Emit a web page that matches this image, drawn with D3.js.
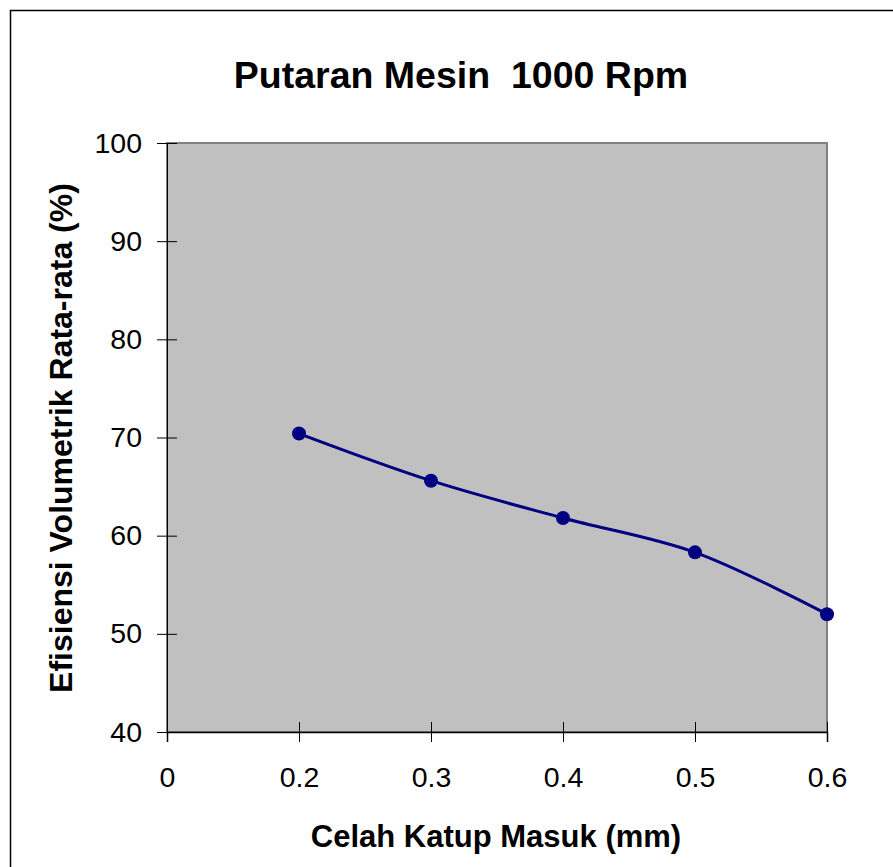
<!DOCTYPE html>
<html>
<head>
<meta charset="utf-8">
<script src="https://cdn.jsdelivr.net/npm/d3@7"></script>
<style>
  body { margin: 0; background: #fff; }
  svg { display: block; font-family: "Liberation Sans", Arial, sans-serif; }
</style>
</head>
<body>
<div id="chart"></div>
<script>
// categories on the x axis (Excel category axis, first one has no value)
const categories = ["0", "0.2", "0.3", "0.4", "0.5", "0.6"];
const efisiensi = [null, 70.4, 65.6, 61.8, 58.3, 52.0];
const yTicks = [40, 50, 60, 70, 80, 90, 100];

const width = 893, height = 867;
const plot = { left: 167, top: 143, right: 827, bottom: 732 };

const svg = d3.select("#chart").append("svg")
    .attr("width", width)
    .attr("height", height);

// outer chart border (right/bottom run off the picture)
svg.append("rect")
    .attr("x", 10.5).attr("y", 10.5)
    .attr("width", width + 20).attr("height", height + 20)
    .attr("fill", "#fff")
    .attr("stroke", "#000")
    .attr("stroke-width", 1.5);

const xscale = d3.scalePoint()
    .domain(categories)
    .range([plot.left, plot.right]);

const yscale = d3.scaleLinear()
    .domain([40, 100])
    .range([plot.bottom, plot.top]);

// plot area
svg.append("rect")
    .attr("x", plot.left).attr("y", plot.top)
    .attr("width", plot.right - plot.left)
    .attr("height", plot.bottom - plot.top)
    .attr("fill", "#c0c0c0")
    .attr("stroke", "#808080")
    .attr("stroke-width", 2);

// y axis
const yaxis = d3.axisLeft(yscale)
    .tickValues(yTicks)
    .tickSize(10)
    .tickPadding(15);

const gy = svg.append("g")
    .attr("transform", `translate(${plot.left},0)`)
    .call(yaxis);
gy.select(".domain").attr("stroke", "#000").attr("stroke-width", 1);
gy.selectAll(".tick line").attr("x2", -10).attr("x1", 10).attr("stroke", "#000");
gy.selectAll(".tick text")
    .attr("x", -25)
    .style("font-size", "28.5px")
    .style("font-family", "Liberation Sans, Arial, sans-serif")
    .attr("fill", "#000");

// x axis
const xaxis = d3.axisBottom(xscale)
    .tickSize(10)
    .tickPadding(20);

const gx = svg.append("g")
    .attr("transform", `translate(0,${plot.bottom})`)
    .call(xaxis);
gx.select(".domain").attr("stroke", "#000").attr("stroke-width", 1.5);
gx.selectAll(".tick line").attr("y1", -10).attr("y2", 10).attr("stroke", "#000");
gx.selectAll(".tick text")
    .attr("y", 35)
    .attr("dy", "0.71em")
    .style("font-size", "28.5px")
    .style("font-family", "Liberation Sans, Arial, sans-serif")
    .attr("fill", "#000");

// series
const points = categories
    .map((c, i) => ({ cat: c, val: efisiensi[i] }))
    .filter(d => d.val != null);

const line = d3.line()
    .x(d => xscale(d.cat))
    .y(d => yscale(d.val))
    .curve(d3.curveCatmullRom.alpha(0.5));

svg.append("path")
    .datum(points)
    .attr("d", line)
    .attr("fill", "none")
    .attr("stroke", "#000080")
    .attr("stroke-width", 3);

svg.selectAll("circle.pt")
    .data(points)
    .enter()
    .append("circle")
    .attr("class", "pt")
    .attr("cx", d => xscale(d.cat))
    .attr("cy", d => yscale(d.val))
    .attr("r", 7)
    .attr("fill", "#000080");

// titles
svg.append("text")
    .attr("x", 461)
    .attr("y", 88)
    .attr("text-anchor", "middle")
    .style("font-size", "37.5px")
    .style("font-weight", "bold")
    .style("white-space", "pre")
    .attr("xml:space", "preserve")
    .text("Putaran Mesin  1000 Rpm");

svg.append("text")
    .attr("x", 496)
    .attr("y", 847)
    .attr("text-anchor", "middle")
    .style("font-size", "31px")
    .style("font-weight", "bold")
    .text("Celah Katup Masuk (mm)");

svg.append("text")
    .attr("transform", "translate(72,438) rotate(-90)")
    .attr("text-anchor", "middle")
    .style("font-size", "32px")
    .style("font-weight", "bold")
    .text("Efisiensi Volumetrik Rata-rata (%)");
</script>
</body>
</html>
